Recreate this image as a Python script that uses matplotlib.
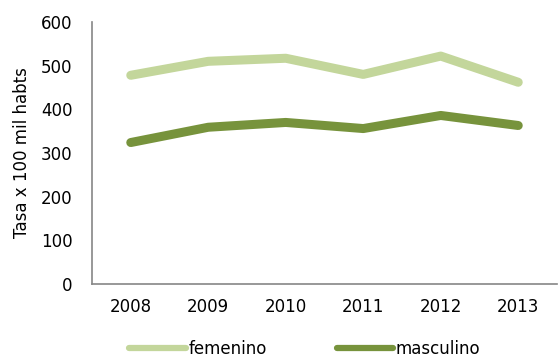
import matplotlib
matplotlib.use('Agg')
import matplotlib.pyplot as plt
from matplotlib.lines import Line2D

years = ['2008', '2009', '2010', '2011', '2012', '2013']
femenino = [478, 510, 517, 480, 522, 462]
masculino = [324, 359, 370, 356, 386, 363]

C_FEM = '#C3D69B'
C_MAS = '#77933C'

plt.rcParams['font.family'] = ['DejaVu Sans']

fig = plt.figure(figsize=(5.59, 3.58), dpi=100)
ax = fig.add_axes([0.1646, 0.2067, 0.8318, 0.7318])

x = range(len(years))
ax.plot(x, femenino, color=C_FEM, lw=6.5, solid_capstyle='round',
        solid_joinstyle='round')
ax.plot(x, masculino, color=C_MAS, lw=6.5, solid_capstyle='round',
        solid_joinstyle='round')

ax.set_xlim(-0.5, len(years) - 0.5)
ax.set_ylim(0, 600)
ax.set_yticks(range(0, 601, 100))
ax.set_xticks(list(x))
ax.set_xticklabels(years)
ax.tick_params(length=0, labelsize=12, colors='black')
ax.tick_params(axis='y', pad=14)
ax.tick_params(axis='x', pad=10)
for s in ('top', 'right'):
    ax.spines[s].set_visible(False)
for s in ('left', 'bottom'):
    ax.spines[s].set_color('#868686')
    ax.spines[s].set_linewidth(1.2)

ax.set_ylabel('Tasa x 100 mil habts', fontsize=12, labelpad=7)

# legend handles drawn thinner than the series lines
handles = [Line2D([], [], color=C_FEM, lw=4.5, solid_capstyle='round'),
           Line2D([], [], color=C_MAS, lw=4.5, solid_capstyle='round')]
fig.legend(handles, ['femenino', 'masculino'], loc='lower center', ncol=2,
           frameon=False, fontsize=12, bbox_to_anchor=(0.545, -0.042),
           handlelength=3.4, handletextpad=0.15, columnspacing=4.2)

fig.savefig('out.png', dpi=100)
